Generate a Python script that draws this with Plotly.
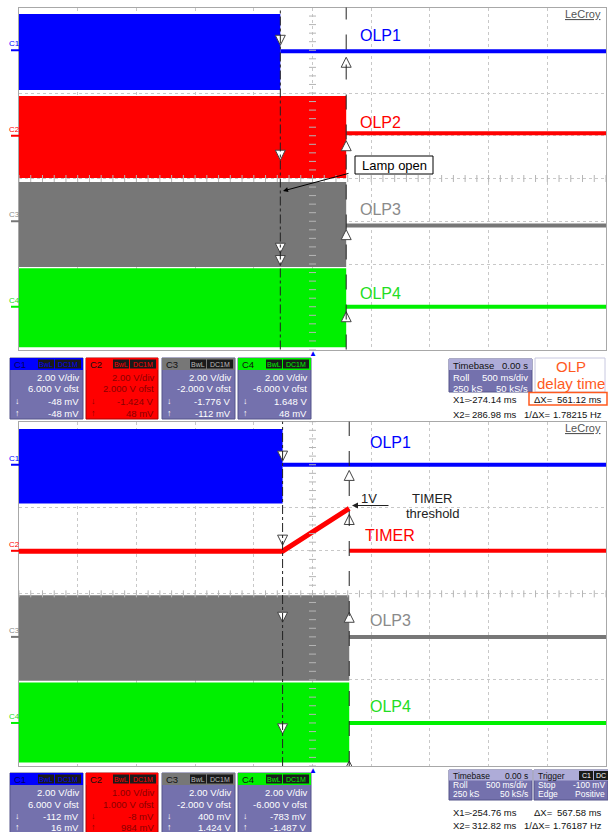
import numpy as np
import plotly.graph_objects as go

W, H = 608, 832

# scope settings: 500 ms/div, 10 x 8 divisions, trigger at centre
ms_per_div = 500
n_xdiv, n_ydiv = 10, 8

names = ['C1', 'C2', 'C3', 'C4']
colors = ['#0000ff', '#ff0000', '#777777', '#00f000']
text_colors = ['#0000ff', '#ff0000', '#8a8a8a', '#22dd22']

# --- top capture: OLP delay time ---
top_labels = ['OLP1', 'OLP2', 'OLP3', 'OLP4']
top_vdiv = [2.0, 2.0, 2.0, 2.0]
top_ofst = [6.0, 2.0, -2.0, -6.0]
top_hi = [1.70, 1.86, 1.84, 1.80]        # switching envelope (V)
top_lo = [-1.86, -1.98, -2.14, -1.90]
top_after = [-0.05, 0.12, -0.20, 0.0]    # level after the switching stops (V)
top_stop = [1, 2, 2, 2]                  # cursor where the switching stops
top_x1, top_x2 = -274.14, 286.98         # cursors (ms)
top_cur1 = [-0.048, -1.424, -1.776, 1.648]
top_cur2 = [-0.048, 0.048, -0.112, 0.048]

# --- bottom capture: timer ---
bot_labels = ['OLP1', 'TIMER', 'OLP3', 'OLP4']
bot_vdiv = [2.0, 1.0, 2.0, 2.0]
bot_ofst = [6.0, 1.0, -2.0, -6.0]
bot_hi = [1.66, None, 1.93, 1.88]
bot_lo = [-1.80, None, -2.04, -1.84]
bot_after = [0.0, 0.0, 0.0, 0.0]
bot_stop = [1, 0, 2, 2]
bot_x1, bot_x2 = -254.76, 312.82
bot_timer = [-0.008, 0.984]              # timer ramp at X1 / X2 (V)
bot_cur1 = [-0.112, -0.008, 0.400, -0.783]
bot_cur2 = [0.016, 0.984, 1.424, -1.487]

FONT = 'Liberation Sans, Arial, sans-serif'


def px(x):
    return x / W


def py(y):
    return 1 - y / H


def fmt_v(v):
    if abs(v) < 1:
        return '{:d} mV'.format(int(round(v * 1000)))
    return '{:.3f} V'.format(v)


def txt(x, y, text, size=9.5, color='#111111', xanchor='center', yref='paper',
        family=FONT):
    yy = py(y) if yref == 'paper' else y
    return dict(x=px(x), y=yy, xref='paper', yref=yref, text=text, showarrow=False,
                xanchor=xanchor, yanchor='middle',
                font=dict(size=size, color=color, family=family))


def rect(x0, y0, x1, y1, fill=None, line_color=None, lw=1):
    d = dict(type='rect', xref='paper', yref='paper', x0=px(x0), x1=px(x1),
             y0=py(y1), y1=py(y0), line=dict(width=lw if line_color else 0,
                                              color=line_color or 'rgba(0,0,0,0)'))
    if fill:
        d['fillcolor'] = fill
    return d


t_min = -ms_per_div * n_xdiv / 2
t_max = ms_per_div * n_xdiv / 2

panels = [
    dict(xa='x', ya='y', vdiv=top_vdiv, ofst=top_ofst, hi=top_hi, lo=top_lo,
         after=top_after, stop=top_stop, x1=top_x1, x2=top_x2,
         cur1=top_cur1, cur2=top_cur2, labels=top_labels,
         lab_x=[358, 358, 358, 358], lab_dy=[0.34, 0.32, 0.28, 0.32],
         box_y=358, rows=[377.5, 389, 401, 413], box_b=419,
         lecroy_y=14, trig_y=354),
    dict(xa='x2', ya='y2', vdiv=bot_vdiv, ofst=bot_ofst, hi=bot_hi, lo=bot_lo,
         after=bot_after, stop=bot_stop, x1=bot_x1, x2=bot_x2,
         cur1=bot_cur1, cur2=bot_cur2, labels=bot_labels,
         lab_x=[368, 363, 368, 368], lab_dy=[0.52, 0.36, 0.38, 0.38],
         box_y=773, rows=[792.5, 804, 816, 827], box_b=840,
         lecroy_y=428, trig_y=770),
]

fig = go.Figure()
shapes = []
ann = []
BODY = '#7471ad'
BODY_EDGE = '#55558a'
HEAD = '#aeacd8'

for p in panels:
    xa, ya = p['xa'], p['ya']
    cur_t = {1: p['x1'], 2: p['x2']}

    def div(v, i, p=p):
        return (v + p['ofst'][i]) / p['vdiv'][i]

    for i in range(4):
        c = colors[i]
        if p['hi'][i] is not None:
            ts = cur_t[p['stop'][i]]
            fig.add_trace(go.Scatter(
                x=[t_min, ts, ts, t_min], y=[div(p['hi'][i], i), div(p['hi'][i], i),
                                            div(p['lo'][i], i), div(p['lo'][i], i)],
                fill='toself', fillcolor=c, line=dict(width=0, color=c),
                mode='lines', xaxis=xa, yaxis=ya, hoverinfo='skip'))
            fig.add_trace(go.Scatter(
                x=[ts, t_max], y=[div(p['after'][i], i)] * 2, mode='lines',
                line=dict(color=c, width=4), xaxis=xa, yaxis=ya, hoverinfo='skip'))
        else:
            # timer: flat, ramps between the cursors, then back to zero
            fig.add_trace(go.Scatter(
                x=[t_min, p['x1'], p['x2']],
                y=[div(bot_timer[0], i), div(bot_timer[0], i), div(bot_timer[1], i)],
                mode='lines', line=dict(color=c, width=5), xaxis=xa, yaxis=ya,
                hoverinfo='skip'))
            fig.add_trace(go.Scatter(
                x=[p['x2'], t_max], y=[div(p['after'][i], i)] * 2, mode='lines',
                line=dict(color=c, width=4), xaxis=xa, yaxis=ya, hoverinfo='skip'))

        # channel marker on the left edge
        z = p['ofst'][i] / p['vdiv'][i]
        ann.append(txt(14, z + 0.15, names[i], 8, text_colors[i], yref=ya))
        shapes.append(dict(type='line', xref='paper', yref=ya, x0=px(11), x1=px(19),
                           y0=z, y1=z, line=dict(color=colors[i], width=2)))
        # trace label
        ann.append(txt(p['lab_x'][i], z + p['lab_dy'][i], p['labels'][i], 16,
                       text_colors[i], 'left', yref=ya))

    # centre graticule ticks
    tt = np.arange(t_min, t_max + 1, ms_per_div / 5)
    yy = np.arange(-n_ydiv / 2, n_ydiv / 2 + 0.01, 0.2)
    fig.add_trace(go.Scatter(x=tt, y=[0] * len(tt), mode='markers', xaxis=xa, yaxis=ya,
                             marker=dict(symbol='line-ns', size=5,
                                         line=dict(color='#b5b5b5', width=1)),
                             hoverinfo='skip'))
    fig.add_trace(go.Scatter(x=[0] * len(yy), y=yy, mode='markers', xaxis=xa, yaxis=ya,
                             marker=dict(symbol='line-ew', size=5,
                                         line=dict(color='#b5b5b5', width=1)),
                             hoverinfo='skip'))

    # cursors
    shapes.append(dict(type='line', xref=xa, yref=ya + ' domain', x0=p['x1'], x1=p['x1'],
                       y0=0, y1=1, line=dict(color='#222222', width=1, dash='dashdot'),
                       layer='above'))
    shapes.append(dict(type='line', xref=xa, yref=ya + ' domain', x0=p['x2'], x1=p['x2'],
                       y0=0, y1=1, line=dict(color='#222222', width=1, dash='longdash'),
                       layer='above'))
    fig.add_trace(go.Scatter(
        x=[p['x1']] * 4, y=[div(p['cur1'][i], i) + 0.14 for i in range(4)],
        mode='markers', xaxis=xa, yaxis=ya, hoverinfo='skip',
        marker=dict(symbol='arrow-down', size=10, color='white',
                    line=dict(color='#444444', width=1))))
    fig.add_trace(go.Scatter(
        x=[p['x2']] * 4, y=[div(p['cur2'][i], i) - 0.14 for i in range(4)],
        mode='markers', xaxis=xa, yaxis=ya, hoverinfo='skip',
        marker=dict(symbol='arrow-up', size=10, color='white',
                    line=dict(color='#444444', width=1))))

    ann.append(txt(603, p['lecroy_y'], '<u>LeCroy</u>', 11, '#555555', 'right'))
    ann.append(txt(312.5, p['trig_y'], '▲', 8, '#0000ff'))

    # channel info boxes
    box_x = [(10, 83), (86, 158), (162, 235), (238, 311)]
    y0 = p['box_y']
    for i in range(4):
        bx0, bx1 = box_x[i]
        body = '#ff0000' if i == 1 else BODY
        tcol = '#8a0000' if i == 1 else 'white'
        shapes.append(rect(bx0, y0, bx1, p['box_b'], body,
                           '#aa0000' if i == 1 else BODY_EDGE))
        shapes.append(rect(bx0, y0, bx1, y0 + 12, colors[i]))
        for tag, tx0, tx1 in [('BwL', bx1 - 45, bx1 - 29), ('DC1M', bx1 - 28, bx1 - 2)]:
            shapes.append(rect(tx0, y0 + 1.5, tx1, y0 + 10.5, '#1a1a1a'))
            ann.append(txt((tx0 + tx1) / 2, y0 + 6, tag, 7,
                           colors[i] if i != 2 else '#bbbbbb'))
        ann.append(txt(bx0 + 2, y0 + 6, names[i], 9.5,
                       '#000060' if i == 0 else '#111111', 'left'))
        vals = ['{:.2f} V/div'.format(p['vdiv'][i]),
                '{:.3f} V ofst'.format(p['ofst'][i]),
                fmt_v(p['cur1'][i]), fmt_v(p['cur2'][i])]
        for row_y, v in zip(p['rows'], vals):
            ann.append(txt(bx1 - 2, row_y, v, 9.5, tcol, 'right'))
        for row_y, s in zip(p['rows'][2:], ['↓', '↑']):
            ann.append(txt(bx0 + 3, row_y, s, 9, tcol, 'left'))


# --- timebase / trigger / cursor readouts ---
def tb_box(y_top, y_bot, rows, size):
    shapes.append(rect(449, y_top, 532, y_bot, BODY, BODY_EDGE))
    shapes.append(rect(449, y_top, 532, rows[0] + 5, HEAD))
    for (l, r), ry, c in zip([('Timebase', '0.00 s'), ('Roll', '500 ms/div'),
                              ('250 kS', '50 kS/s')], rows, ['#111111', 'white', 'white']):
        ann.append(txt(451, ry, l, size, c, 'left'))
        ann.append(txt(530, ry, r, size, c, 'right'))


def readout(x1, x2, row1, row2):
    dx = x2 - x1
    items = [(451, row1, 'X1=', 'left'), (519, row1, '{:.2f} ms'.format(x1), 'right'),
             (451, row2, 'X2=', 'left'), (519, row2, '{:.2f} ms'.format(x2), 'right'),
             (532, row1, 'ΔX=', 'left'), (604, row1, '{:.2f} ms'.format(dx), 'right'),
             (522, row2, '1/ΔX=', 'left'), (604, row2, '{:.5f} Hz'.format(1000 / dx), 'right')]
    for x, y, t, a in items:
        ann.append(txt(x, y, t, 9.5, '#111111', a))


tb_box(359, 392, [365, 377, 388], 9.5)
readout(top_x1, top_x2, 399, 414)
shapes.append(rect(535, 358, 605, 392, 'white', '#c8c8e0'))
ann.append(txt(571, 367, 'OLP', 15, '#ff5a1e'))
ann.append(txt(571, 383, 'delay time', 15, '#ff5a1e'))
shapes.append(rect(529, 392.5, 607, 405, None, '#ff5a1e', 1.5))

tb_box(770, 800, [775.5, 785, 794], 8.5)
readout(bot_x1, bot_x2, 812, 825)
shapes.append(rect(534, 770, 608, 800, BODY, BODY_EDGE))
shapes.append(rect(534, 770, 608, 780.5, HEAD))
for tag, tx0, tx1 in [('C1', 579, 593), ('DC', 594, 608)]:
    shapes.append(rect(tx0, 771, tx1, 780, '#1a1a1a'))
    ann.append(txt((tx0 + tx1) / 2, 775.5, tag, 7, 'white'))
for (l, r), ry, c in zip([('Trigger', ''), ('Stop', '-100 mV'), ('Edge', 'Positive')],
                         [775.5, 785, 794], ['#111111', 'white', 'white']):
    ann.append(txt(536, ry, l, 8.5, c, 'left'))
    if r:
        ann.append(txt(607, ry, r, 8.5, c, 'right'))

# --- callouts ---
shapes.append(rect(355, 156, 433, 174, 'white', 'black'))
ann.append(txt(394, 165, 'Lamp open', 13, 'black'))
ann.append(dict(x=px(283), y=py(191), xref='paper', yref='paper', text='', showarrow=True,
                ax=67, ay=-18, arrowhead=2, arrowsize=1, arrowwidth=1, arrowcolor='black'))
ann.append(dict(x=px(352), y=py(505.5), xref='paper', yref='paper', text='', showarrow=True,
                ax=38, ay=0, arrowhead=2, arrowsize=1, arrowwidth=1.2, arrowcolor='#222222'))
ann.append(txt(369, 498, '1V', 13, '#222222'))
ann.append(txt(432, 498, 'TIMER', 13, '#222222'))
ann.append(txt(432, 513, 'threshold', 13, '#222222'))

axis_common = dict(showticklabels=False, showgrid=True, gridcolor='#c8c8c8', griddash='dot',
                   zeroline=False, showline=True, mirror=True, linecolor='#a8a8a8',
                   ticks='', fixedrange=True)
fig.update_layout(
    width=W, height=H, margin=dict(l=0, r=0, t=0, b=0),
    paper_bgcolor='white', plot_bgcolor='white', showlegend=False,
    annotations=ann, shapes=shapes,
    xaxis=dict(domain=[px(19), px(606)], range=[t_min, t_max], dtick=ms_per_div,
               anchor='y', **axis_common),
    yaxis=dict(domain=[py(349.5), py(7.5)], range=[-n_ydiv / 2, n_ydiv / 2], dtick=1,
               anchor='x', **axis_common),
    xaxis2=dict(domain=[px(19), px(606)], range=[t_min, t_max], dtick=ms_per_div,
                anchor='y2', **axis_common),
    yaxis2=dict(domain=[py(766), py(421.7)], range=[-n_ydiv / 2, n_ydiv / 2], dtick=1,
                anchor='x2', **axis_common),
)

fig.write_html("out.html", config={'displayModeBar': False},
               post_script="document.body.style.margin='0';"
                           "document.body.style.overflow='hidden';")
